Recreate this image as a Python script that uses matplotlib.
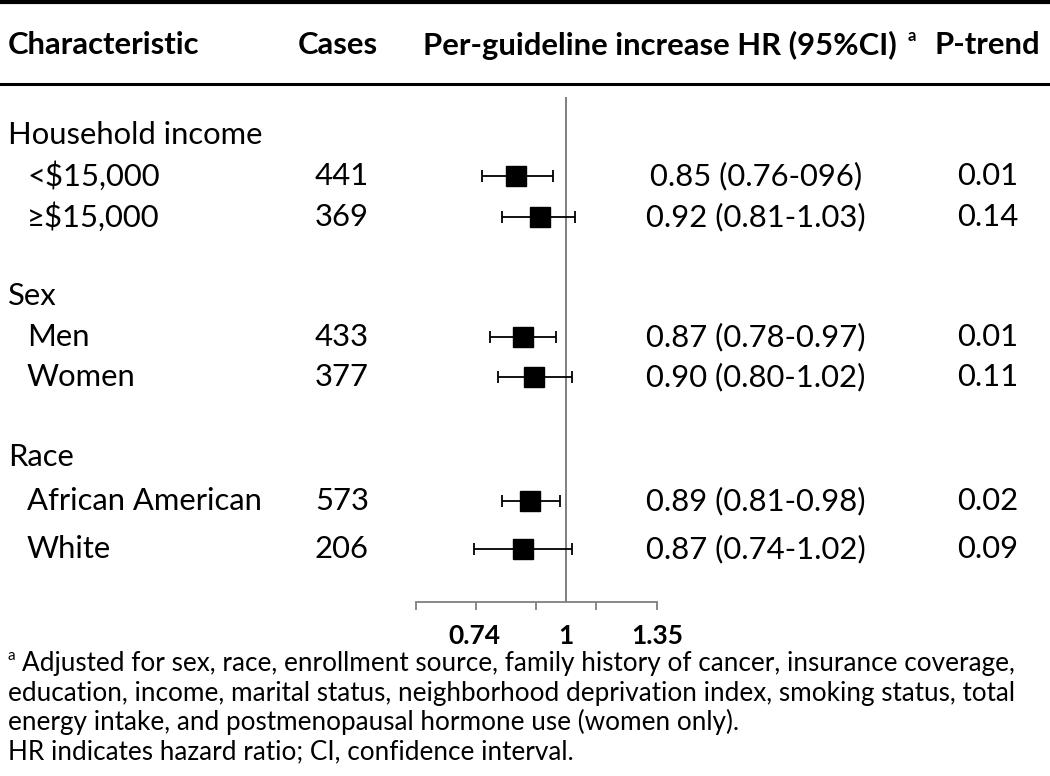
import matplotlib
matplotlib.use("Agg")
import matplotlib.pyplot as plt
import matplotlib.transforms as mtransforms
import numpy as np

plt.rcParams['font.family'] = ['Lato', 'DejaVu Sans']

# 数据
labels = ['Household income', '<$15,000', '\u2265$15,000',
          'Sex', 'Men', 'Women',
          'Race', 'African American', 'White']
is_group = [True, False, False, True, False, False, True, False, False]
cases = ['', '441', '369', '', '433', '377', '', '573', '206']
hr = [np.nan, 0.85, 0.92, np.nan, 0.87, 0.90, np.nan, 0.89, 0.87]
ci_low = [np.nan, 0.76, 0.81, np.nan, 0.78, 0.80, np.nan, 0.81, 0.74]
ci_high = [np.nan, 0.96, 1.03, np.nan, 0.97, 1.02, np.nan, 0.98, 1.02]
hr_text = ['', '0.85 (0.76-096)', '0.92 (0.81-1.03)', '', '0.87 (0.78-0.97)',
           '0.90 (0.80-1.02)', '', '0.89 (0.81-0.98)', '0.87 (0.74-1.02)']
p_trend = ['', '0.01', '0.14', '', '0.01', '0.11', '', '0.02', '0.09']
tick_labels = [0.74, 1, 1.35]

headers = ['Characteristic', 'Cases', 'Per-guideline increase HR (95%CI)', 'P-trend']
footnotes = ['Adjusted for sex, race, enrollment source, family history of cancer, insurance coverage,',
             'education, income, marital status, neighborhood deprivation index, smoking status, total',
             'energy intake, and postmenopausal hormone use (women only).',
             'HR indicates hazard ratio; CI, confidence interval.']

# 布局（像素）
W, H = 1050, 776
row_y = [135, 176, 217, 296, 337, 377, 457, 501, 549]
ax_top, ax_bot = 97, 602
x_left_px, x_one_px, x_right_px = 415.7, 565.7, 656.7
px_per_ln = 304.0


def fx(x):
    return x / W


def fy(y):
    return 1 - y / H


fig = plt.figure(figsize=(W / 100, H / 100), dpi=100)

# 表头与横线
fig.add_artist(plt.Line2D([0, 1], [fy(1.5), fy(1.5)], color='black', lw=3.0))
fig.add_artist(plt.Line2D([0, 1], [fy(84), fy(84)], color='black', lw=2.2))
hfs = 22.3
fig.text(fx(8), fy(45), headers[0], fontsize=hfs, fontweight='bold', va='center')
fig.text(fx(338), fy(45), headers[1], fontsize=hfs, fontweight='bold', va='center', ha='center')
fig.text(fx(660), fy(45), headers[2], fontsize=hfs, fontweight='bold', va='center', ha='center')
fig.text(fx(912), fy(36), 'a', fontsize=12, fontweight='bold', va='center', ha='center')
fig.text(fx(987), fy(45), headers[3], fontsize=hfs, fontweight='bold', va='center', ha='center')

# 表格文字
bfs = 22.3
for i, lab in enumerate(labels):
    y = fy(row_y[i])
    fig.text(fx(8 if is_group[i] else 27), y, lab, fontsize=bfs, va='center')
    if cases[i]:
        fig.text(fx(342), y, cases[i], fontsize=bfs, va='center', ha='center')
        fig.text(fx(756), y, hr_text[i], fontsize=bfs, va='center', ha='center')
        fig.text(fx(988), y, p_trend[i], fontsize=bfs, va='center', ha='center')

# 森林图
xmin = np.exp((x_left_px - x_one_px) / px_per_ln)
xmax = np.exp((x_right_px - x_one_px) / px_per_ln)
ax = fig.add_axes([fx(x_left_px), fy(ax_bot), fx(x_right_px) - fx(x_left_px), (ax_bot - ax_top) / H])
ax.set_xscale('log')
ax.set_xlim(xmin, xmax)
ax.set_ylim(ax_bot, ax_top)
ax.patch.set_alpha(0)
ax.axvline(1, color='#7f7f7f', lw=1.4, zorder=1)

hr_a = np.array(hr)
err = [hr_a - np.array(ci_low), np.array(ci_high) - hr_a]
ax.errorbar(hr_a, row_y, xerr=err, fmt='s', color='black', ms=15, capsize=4.5,
            elinewidth=1.3, capthick=1.3, zorder=3)

for s in ['top', 'left', 'right']:
    ax.spines[s].set_visible(False)
ax.spines['bottom'].set_color('#7f7f7f')
ax.spines['bottom'].set_linewidth(1.3)
ax.set_yticks([])
ax.xaxis.set_minor_locator(matplotlib.ticker.NullLocator())
ax.set_xticks(np.geomspace(xmin, xmax, 5))
ax.set_xticklabels([])
ax.tick_params(axis='x', direction='out', length=6, width=1.3, color='#7f7f7f')

trans = mtransforms.blended_transform_factory(ax.transData, fig.transFigure)
for t in tick_labels:
    ax.text(t, fy(636), f'{t:g}', transform=trans, fontsize=19, fontweight='bold',
            ha='center', va='center')

# 脚注
ffs = 18.8
foot_y = [663, 693, 722, 752]
fig.text(fx(8), fy(656), 'a', fontsize=11, va='center')
fig.text(fx(22), fy(foot_y[0]), footnotes[0], fontsize=ffs, va='center')
for j in range(1, 4):
    fig.text(fx(8), fy(foot_y[j]), footnotes[j], fontsize=ffs, va='center')

plt.savefig('out.png', dpi=100)
